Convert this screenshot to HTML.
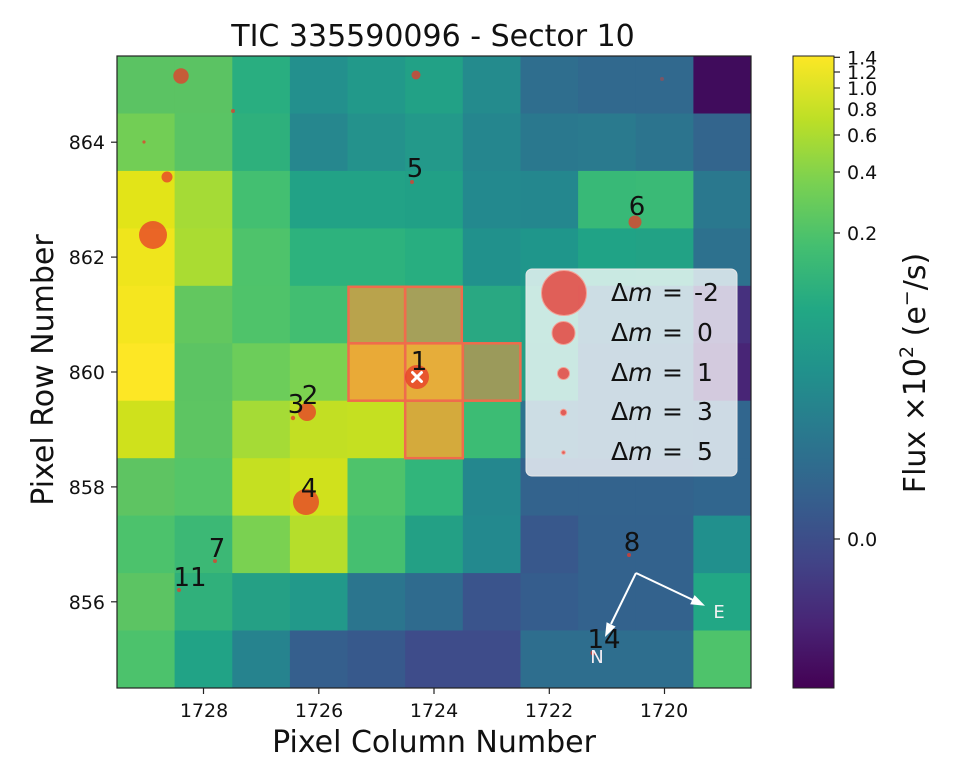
<!DOCTYPE html>
<html>
<head>
<meta charset="utf-8">
<style>
  html,body{margin:0;padding:0;background:#fff;}
  svg{display:block;font-family:"DejaVu Sans","Liberation Sans",sans-serif;}
</style>
</head>
<body>
<svg width="958" height="774" viewBox="0 0 958 774" xmlns="http://www.w3.org/2000/svg">
  <defs>
    <linearGradient id="vir" x1="0" y1="0" x2="0" y2="1">
      <stop offset="0%" stop-color="#fde725"/>
      <stop offset="10%" stop-color="#bddf26"/>
      <stop offset="20%" stop-color="#7ad151"/>
      <stop offset="30%" stop-color="#44bf70"/>
      <stop offset="40%" stop-color="#22a884"/>
      <stop offset="50%" stop-color="#21918c"/>
      <stop offset="60%" stop-color="#2a788e"/>
      <stop offset="70%" stop-color="#355f8d"/>
      <stop offset="80%" stop-color="#414487"/>
      <stop offset="90%" stop-color="#482475"/>
      <stop offset="100%" stop-color="#440154"/>
    </linearGradient>
    <clipPath id="plotclip"><rect x="117" y="56" width="634" height="632"/></clipPath>
  </defs>

  <rect width="958" height="774" fill="#fff"/>

  <!-- Title -->
  <text x="433" y="46" font-size="30" text-anchor="middle" fill="#111">TIC 335590096 - Sector 10</text>

  <g clip-path="url(#plotclip)">
    <!-- r0 -->
    <g transform="translate(0,56)">
      <rect x="117" y="0" width="58" height="58" fill="#5bc363"/>
      <rect x="174.6" y="0" width="58" height="58" fill="#5bc363"/>
      <rect x="232.3" y="0" width="58" height="58" fill="#29ae80"/>
      <rect x="289.9" y="0" width="58" height="58" fill="#23908d"/>
      <rect x="347.5" y="0" width="58" height="58" fill="#22998a"/>
      <rect x="405.2" y="0" width="58" height="58" fill="#22a186"/>
      <rect x="462.8" y="0" width="58" height="58" fill="#248b8d"/>
      <rect x="520.5" y="0" width="58" height="58" fill="#2f6e8e"/>
      <rect x="578.1" y="0" width="58" height="58" fill="#31698e"/>
      <rect x="635.7" y="0" width="58" height="58" fill="#31698e"/>
      <rect x="693.4" y="0" width="58" height="58" fill="#400c5c"/>
    </g>
    <!-- r1 -->
    <g transform="translate(0,113.5)">
      <rect x="117" y="0" width="58" height="58" fill="#72ce55"/>
      <rect x="174.6" y="0" width="58" height="58" fill="#5ac464"/>
      <rect x="232.3" y="0" width="58" height="58" fill="#2eb07c"/>
      <rect x="289.9" y="0" width="58" height="58" fill="#26878e"/>
      <rect x="347.5" y="0" width="58" height="58" fill="#24928c"/>
      <rect x="405.2" y="0" width="58" height="58" fill="#23998a"/>
      <rect x="462.8" y="0" width="58" height="58" fill="#25868e"/>
      <rect x="520.5" y="0" width="58" height="58" fill="#2a788e"/>
      <rect x="578.1" y="0" width="58" height="58" fill="#2a7a8e"/>
      <rect x="635.7" y="0" width="58" height="58" fill="#2c748e"/>
      <rect x="693.4" y="0" width="58" height="58" fill="#33658d"/>
    </g>
    <!-- r2 -->
    <g transform="translate(0,170.9)">
      <rect x="117" y="0" width="58" height="58" fill="#e2e418"/>
      <rect x="174.6" y="0" width="58" height="58" fill="#a5db36"/>
      <rect x="232.3" y="0" width="58" height="58" fill="#43bf71"/>
      <rect x="289.9" y="0" width="58" height="58" fill="#22a286"/>
      <rect x="347.5" y="0" width="58" height="58" fill="#22a286"/>
      <rect x="405.2" y="0" width="58" height="58" fill="#21a086"/>
      <rect x="462.8" y="0" width="58" height="58" fill="#23898e"/>
      <rect x="520.5" y="0" width="58" height="58" fill="#24878e"/>
      <rect x="578.1" y="0" width="58" height="58" fill="#38b977"/>
      <rect x="635.7" y="0" width="58" height="58" fill="#3aba76"/>
      <rect x="693.4" y="0" width="58" height="58" fill="#2a788e"/>
    </g>
    <!-- r3 -->
    <g transform="translate(0,228.4)">
      <rect x="117" y="0" width="58" height="58" fill="#efe51c"/>
      <rect x="174.6" y="0" width="58" height="58" fill="#aadc32"/>
      <rect x="232.3" y="0" width="58" height="58" fill="#4ec36b"/>
      <rect x="289.9" y="0" width="58" height="58" fill="#2db27d"/>
      <rect x="347.5" y="0" width="58" height="58" fill="#2db27d"/>
      <rect x="405.2" y="0" width="58" height="58" fill="#28ae80"/>
      <rect x="462.8" y="0" width="58" height="58" fill="#21918c"/>
      <rect x="520.5" y="0" width="58" height="58" fill="#1f968b"/>
      <rect x="578.1" y="0" width="58" height="58" fill="#20a386"/>
      <rect x="635.7" y="0" width="58" height="58" fill="#22a285"/>
      <rect x="693.4" y="0" width="58" height="58" fill="#2d718e"/>
    </g>
    <!-- r4 -->
    <g transform="translate(0,285.8)">
      <rect x="117" y="0" width="58" height="58" fill="#f5e61f"/>
      <rect x="174.6" y="0" width="58" height="58" fill="#62c75f"/>
      <rect x="232.3" y="0" width="58" height="58" fill="#4fc36a"/>
      <rect x="289.9" y="0" width="58" height="58" fill="#42be71"/>
      <rect x="347.5" y="0" width="58" height="58" fill="#b9a34c"/>
      <rect x="405.2" y="0" width="58" height="58" fill="#a5a05a"/>
      <rect x="462.8" y="0" width="58" height="58" fill="#29a882"/>
      <rect x="520.5" y="0" width="58" height="58" fill="#22a286"/>
      <rect x="578.1" y="0" width="58" height="58" fill="#2c728e"/>
      <rect x="635.7" y="0" width="58" height="58" fill="#2c728e"/>
      <rect x="693.4" y="0" width="58" height="58" fill="#46307e"/>
    </g>
    <!-- r5 -->
    <g transform="translate(0,343.3)">
      <rect x="117" y="0" width="58" height="58" fill="#fde725"/>
      <rect x="174.6" y="0" width="58" height="58" fill="#5cc463"/>
      <rect x="232.3" y="0" width="58" height="58" fill="#6ccd5a"/>
      <rect x="289.9" y="0" width="58" height="58" fill="#7cd250"/>
      <rect x="347.5" y="0" width="58" height="58" fill="#e9aa37"/>
      <rect x="405.2" y="0" width="58" height="58" fill="#e6ad3a"/>
      <rect x="462.8" y="0" width="58" height="58" fill="#9b9a5b"/>
      <rect x="520.5" y="0" width="58" height="58" fill="#25a085"/>
      <rect x="578.1" y="0" width="58" height="58" fill="#2f6b8e"/>
      <rect x="635.7" y="0" width="58" height="58" fill="#2f6b8e"/>
      <rect x="693.4" y="0" width="58" height="58" fill="#482576"/>
    </g>
    <!-- r6 -->
    <g transform="translate(0,400.7)">
      <rect x="117" y="0" width="58" height="58" fill="#cfe11c"/>
      <rect x="174.6" y="0" width="58" height="58" fill="#5dc562"/>
      <rect x="232.3" y="0" width="58" height="58" fill="#a5db36"/>
      <rect x="289.9" y="0" width="58" height="58" fill="#c2df23"/>
      <rect x="347.5" y="0" width="58" height="58" fill="#c5e021"/>
      <rect x="405.2" y="0" width="58" height="58" fill="#d4aa3c"/>
      <rect x="462.8" y="0" width="58" height="58" fill="#3cbc74"/>
      <rect x="520.5" y="0" width="58" height="58" fill="#2c738e"/>
      <rect x="578.1" y="0" width="58" height="58" fill="#31688e"/>
      <rect x="635.7" y="0" width="58" height="58" fill="#31688e"/>
      <rect x="693.4" y="0" width="58" height="58" fill="#31668e"/>
    </g>
    <!-- r7 -->
    <g transform="translate(0,458.2)">
      <rect x="117" y="0" width="58" height="58" fill="#5ec462"/>
      <rect x="174.6" y="0" width="58" height="58" fill="#55c568"/>
      <rect x="232.3" y="0" width="58" height="58" fill="#c5e021"/>
      <rect x="289.9" y="0" width="58" height="58" fill="#d0e11c"/>
      <rect x="347.5" y="0" width="58" height="58" fill="#4ec36b"/>
      <rect x="405.2" y="0" width="58" height="58" fill="#31b57b"/>
      <rect x="462.8" y="0" width="58" height="58" fill="#24878e"/>
      <rect x="520.5" y="0" width="58" height="58" fill="#33638d"/>
      <rect x="578.1" y="0" width="58" height="58" fill="#33638d"/>
      <rect x="635.7" y="0" width="58" height="58" fill="#33638d"/>
      <rect x="693.4" y="0" width="58" height="58" fill="#31668e"/>
    </g>
    <!-- r8 -->
    <g transform="translate(0,515.6)">
      <rect x="117" y="0" width="58" height="58" fill="#4cc26c"/>
      <rect x="174.6" y="0" width="58" height="58" fill="#3cb875"/>
      <rect x="232.3" y="0" width="58" height="58" fill="#7ad151"/>
      <rect x="289.9" y="0" width="58" height="58" fill="#b5de2b"/>
      <rect x="347.5" y="0" width="58" height="58" fill="#45bf70"/>
      <rect x="405.2" y="0" width="58" height="58" fill="#23a085"/>
      <rect x="462.8" y="0" width="58" height="58" fill="#23898e"/>
      <rect x="520.5" y="0" width="58" height="58" fill="#38588c"/>
      <rect x="578.1" y="0" width="58" height="58" fill="#33628d"/>
      <rect x="635.7" y="0" width="58" height="58" fill="#33628d"/>
      <rect x="693.4" y="0" width="58" height="58" fill="#21908d"/>
    </g>
    <!-- r9 -->
    <g transform="translate(0,573.1)">
      <rect x="117" y="0" width="58" height="58" fill="#5cc463"/>
      <rect x="174.6" y="0" width="58" height="58" fill="#30b07b"/>
      <rect x="232.3" y="0" width="58" height="58" fill="#25a085"/>
      <rect x="289.9" y="0" width="58" height="58" fill="#22998a"/>
      <rect x="347.5" y="0" width="58" height="58" fill="#2b758e"/>
      <rect x="405.2" y="0" width="58" height="58" fill="#2f6b8e"/>
      <rect x="462.8" y="0" width="58" height="58" fill="#3a548c"/>
      <rect x="520.5" y="0" width="58" height="58" fill="#355d8d"/>
      <rect x="578.1" y="0" width="58" height="58" fill="#33628d"/>
      <rect x="635.7" y="0" width="58" height="58" fill="#33628d"/>
      <rect x="693.4" y="0" width="58" height="58" fill="#22a785"/>
    </g>
    <!-- r10 -->
    <g transform="translate(0,630.5)">
      <rect x="117" y="0" width="58" height="58" fill="#4cc26c"/>
      <rect x="174.6" y="0" width="58" height="58" fill="#21a386"/>
      <rect x="232.3" y="0" width="58" height="58" fill="#26838e"/>
      <rect x="289.9" y="0" width="58" height="58" fill="#355f8d"/>
      <rect x="347.5" y="0" width="58" height="58" fill="#37598c"/>
      <rect x="405.2" y="0" width="58" height="58" fill="#3e4c8a"/>
      <rect x="462.8" y="0" width="58" height="58" fill="#3e4c8a"/>
      <rect x="520.5" y="0" width="58" height="58" fill="#2e6e8e"/>
      <rect x="578.1" y="0" width="58" height="58" fill="#2e6e8e"/>
      <rect x="635.7" y="0" width="58" height="58" fill="#2e6e8e"/>
      <rect x="693.4" y="0" width="58" height="58" fill="#4ec36b"/>
    </g>

    <!-- Aperture outlines -->
    <g fill="none" stroke="#ef6c4c" stroke-width="2.5">
      <rect x="348.5" y="286.8" width="56.6" height="56.5"/>
      <rect x="405.2" y="286.8" width="56.6" height="56.5"/>
      <rect x="348.5" y="343.3" width="56.7" height="57.4"/>
      <rect x="405.2" y="343.3" width="57.6" height="57.4"/>
      <rect x="462.8" y="343.3" width="57.6" height="57.4"/>
      <rect x="405.2" y="400.7" width="57.6" height="57.5"/>
    </g>

    <!-- Stars -->
    <g fill="#e83a2a" fill-opacity="0.75">
      <circle cx="181" cy="76" r="7.7"/>
      <circle cx="416" cy="75" r="4.5"/>
      <circle cx="233" cy="111" r="2"/>
      <circle cx="144" cy="142" r="1.6"/>
      <circle cx="167" cy="177" r="5.5"/>
      <circle cx="153" cy="235" r="14"/>
      <circle cx="662" cy="79" r="2" fill-opacity="0.4"/>
      <circle cx="412" cy="182" r="2"/>
      <circle cx="635" cy="222" r="6.5"/>
      <circle cx="417" cy="377" r="12"/>
      <circle cx="307" cy="412" r="9"/>
      <circle cx="293" cy="418" r="2.2"/>
      <circle cx="306" cy="502" r="13"/>
      <circle cx="215" cy="561" r="2"/>
      <circle cx="179" cy="590" r="2"/>
      <circle cx="629" cy="555" r="2"/>
      <circle cx="593" cy="653" r="2.5"/>
    </g>
    <!-- white x on target -->
    <g stroke="#fff" stroke-width="3" stroke-linecap="round">
      <line x1="412.5" y1="372.5" x2="421.5" y2="381.5"/>
      <line x1="421.5" y1="372.5" x2="412.5" y2="381.5"/>
    </g>

    <!-- star labels -->
    <g font-size="26" fill="#111" text-anchor="middle">
      <text x="419" y="370">1</text>
      <text x="310" y="404">2</text>
      <text x="296" y="413">3</text>
      <text x="309" y="497">4</text>
      <text x="415" y="177">5</text>
      <text x="637" y="215">6</text>
      <text x="217" y="557">7</text>
      <text x="632" y="551">8</text>
      <text x="190" y="586">11</text>
      <text x="604" y="648">14</text>
    </g>

    <!-- compass arrows -->
    <g stroke="#fff" stroke-width="2" fill="none">
      <line x1="636" y1="573" x2="693" y2="600"/>
      <line x1="636" y1="573" x2="611" y2="624"/>
    </g>
    <g fill="#fff">
      <polygon points="705,605.7 694.6,595.1 690.2,604.2"/>
      <polygon points="605,637 606.6,622.2 615.6,626.6"/>
    </g>
    <text x="719" y="618" font-size="18" fill="#f2f2f2" text-anchor="middle">E</text>
    <text x="597" y="663" font-size="18" fill="#f4eef4" text-anchor="middle">N</text>

    <!-- Legend -->
    <rect x="526" y="269" width="211" height="207" rx="6" ry="6" fill="#ffffff" fill-opacity="0.76" stroke="#e6e6e6" stroke-width="1"/>
    <g fill="#e4473f" fill-opacity="0.85" stroke="#f4a095" stroke-width="1">
      <circle cx="564" cy="293" r="22.5"/>
      <circle cx="563.5" cy="333" r="11.5"/>
      <circle cx="563.5" cy="373.5" r="6"/>
      <circle cx="563.5" cy="412.5" r="3.2"/>
      <circle cx="563.5" cy="452.5" r="1.8"/>
    </g>
    <g font-size="25" fill="#111">
      <text x="611" y="301">Δ<tspan font-style="italic">m</tspan></text>
      <text x="662" y="301">=</text>
      <text x="694" y="301">-2</text>
      <text x="611" y="341">Δ<tspan font-style="italic">m</tspan></text>
      <text x="662" y="341">=</text>
      <text x="697" y="341">0</text>
      <text x="611" y="381">Δ<tspan font-style="italic">m</tspan></text>
      <text x="662" y="381">=</text>
      <text x="697" y="381">1</text>
      <text x="611" y="420">Δ<tspan font-style="italic">m</tspan></text>
      <text x="662" y="420">=</text>
      <text x="697" y="420">3</text>
      <text x="611" y="460">Δ<tspan font-style="italic">m</tspan></text>
      <text x="662" y="460">=</text>
      <text x="697" y="460">5</text>
    </g>
  </g>

  <!-- plot frame -->
  <rect x="117" y="56" width="634" height="632" fill="none" stroke="#222" stroke-width="1.2"/>

  <!-- x ticks -->
  <g stroke="#222" stroke-width="1.2">
    <line x1="203.5" y1="688" x2="203.5" y2="694"/>
    <line x1="318.8" y1="688" x2="318.8" y2="694"/>
    <line x1="434" y1="688" x2="434" y2="694"/>
    <line x1="549.3" y1="688" x2="549.3" y2="694"/>
    <line x1="664.5" y1="688" x2="664.5" y2="694"/>
  </g>
  <g font-size="19" fill="#111" text-anchor="middle">
    <text x="204" y="717">1728</text>
    <text x="319" y="717">1726</text>
    <text x="434" y="717">1724</text>
    <text x="549" y="717">1722</text>
    <text x="664" y="717">1720</text>
  </g>
  <text x="434" y="752" font-size="30" fill="#111" text-anchor="middle">Pixel Column Number</text>

  <!-- y ticks -->
  <g stroke="#222" stroke-width="1.2">
    <line x1="111" y1="142.2" x2="117" y2="142.2"/>
    <line x1="111" y1="257.1" x2="117" y2="257.1"/>
    <line x1="111" y1="372" x2="117" y2="372"/>
    <line x1="111" y1="486.9" x2="117" y2="486.9"/>
    <line x1="111" y1="601.8" x2="117" y2="601.8"/>
  </g>
  <g font-size="19" fill="#111" text-anchor="end">
    <text x="105" y="149.2">864</text>
    <text x="105" y="264.1">862</text>
    <text x="105" y="379">860</text>
    <text x="105" y="493.9">858</text>
    <text x="105" y="608.8">856</text>
  </g>
  <text transform="translate(53,370) rotate(-90)" font-size="30" fill="#111" text-anchor="middle">Pixel Row Number</text>

  <!-- colorbar -->
  <rect x="793" y="56" width="41" height="632" fill="url(#vir)" stroke="#222" stroke-width="1"/>
  <g stroke="#222" stroke-width="1.2">
    <line x1="834" y1="57.3" x2="840" y2="57.3"/>
    <line x1="834" y1="72" x2="840" y2="72"/>
    <line x1="834" y1="88" x2="840" y2="88"/>
    <line x1="834" y1="109" x2="840" y2="109"/>
    <line x1="834" y1="135" x2="840" y2="135"/>
    <line x1="834" y1="172" x2="840" y2="172"/>
    <line x1="834" y1="233" x2="840" y2="233"/>
    <line x1="834" y1="539" x2="840" y2="539"/>
  </g>
  <g font-size="19" fill="#111">
    <text x="847" y="64.3">1.4</text>
    <text x="847" y="79">1.2</text>
    <text x="847" y="95">1.0</text>
    <text x="847" y="116">0.8</text>
    <text x="847" y="142">0.6</text>
    <text x="847" y="179">0.4</text>
    <text x="847" y="240">0.2</text>
    <text x="847" y="546">0.0</text>
  </g>
  <text transform="translate(925,373) rotate(-90)" font-size="30" fill="#111" text-anchor="middle">Flux ×10<tspan font-size="19" dy="-12">2</tspan><tspan dy="12"> (e</tspan><tspan font-size="19" dy="-12">−</tspan><tspan dy="12">/s)</tspan></text>
</svg>
</body>
</html>
